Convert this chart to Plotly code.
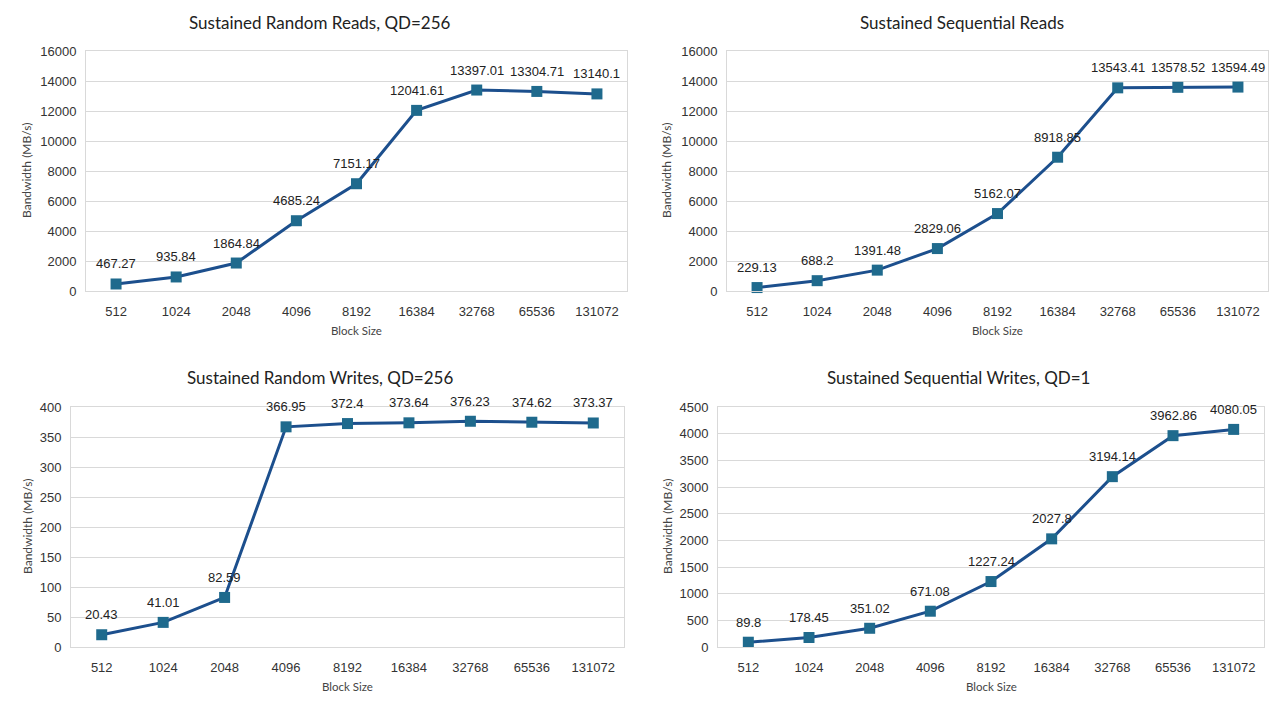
import plotly.graph_objects as go

block_sizes = ["512", "1024", "2048", "4096", "8192", "16384", "32768", "65536", "131072"]

rand_reads = [467.27, 935.84, 1864.84, 4685.24, 7151.17, 12041.61, 13397.01, 13304.71, 13140.1]
seq_reads = [229.13, 688.2, 1391.48, 2829.06, 5162.07, 8918.85, 13543.41, 13578.52, 13594.49]
rand_writes = [20.43, 41.01, 82.59, 366.95, 372.4, 373.64, 376.23, 374.62, 373.37]
seq_writes = [89.8, 178.45, 351.02, 671.08, 1227.24, 2027.8, 3194.14, 3962.86, 4080.05]

titles = ["Sustained Random Reads, QD=256", "Sustained Sequential Reads",
          "Sustained Random Writes, QD=256", "Sustained Sequential Writes, QD=1"]
y_ranges = [(0, 16000, 2000), (0, 16000, 2000), (0, 400, 50), (0, 4500, 500)]
series = [rand_reads, seq_reads, rand_writes, seq_writes]

W, H = 1280, 711
# pixel boxes: left, right, top, bottom
boxes = [(86, 627, 51, 291), (727, 1268, 51, 291), (71, 624, 407, 647), (718, 1264, 407, 647)]
title_x = [320, 962, 320, 958]
title_y = [22, 22, 378, 378]
ytitle_x = [27, 667, 27, 667]

LINE = "#1c4f8d"
MARK = "#1f6a8d"
GRID = "#d9d9d9"
TICKFONT = dict(family="Liberation Sans, Arial", size=13, color="#333333")
LABELFONT = dict(family="Liberation Sans, Arial", size=13, color="#222222")

idx = list(range(len(block_sizes)))

fig = go.Figure()
annotations = []
layout = {}
for i in range(4):
    l, r, t, b = boxes[i]
    sx = "" if i == 0 else str(i + 1)
    xa, ya = "x" + sx, "y" + sx
    fig.add_trace(go.Scatter(
        x=idx, y=series[i], mode="lines+markers",
        line=dict(color=LINE, width=3),
        marker=dict(symbol="square", size=11, color=MARK),
        xaxis=xa, yaxis=ya, showlegend=False, cliponaxis=False,
        customdata=block_sizes, hovertemplate="%{customdata}: %{y}<extra></extra>"))
    for xv, yv in zip(idx, series[i]):
        annotations.append(dict(
            x=xv, y=yv, xref=xa, yref=ya, text=str(yv), showarrow=False,
            xanchor="center", yanchor="middle", yshift=20, font=LABELFONT))
    lo, hi, dt = y_ranges[i]
    layout["xaxis" + sx] = dict(
        domain=[l / W, r / W], anchor=ya, range=[-0.5, len(block_sizes) - 0.5],
        tickvals=idx, ticktext=block_sizes, automargin=False,
        showgrid=False, zeroline=False, showline=True, linecolor=GRID, linewidth=1, mirror=True,
        ticks="", tickfont=TICKFONT, ticklabelstandoff=8, fixedrange=True)
    layout["yaxis" + sx] = dict(
        domain=[1 - b / H, 1 - t / H], anchor=xa, range=[lo, hi], dtick=dt,
        tickformat="d", automargin=False,
        showgrid=True, gridcolor=GRID, gridwidth=1, zeroline=False,
        showline=True, linecolor=GRID, linewidth=1, mirror=True,
        ticks="", tickfont=TICKFONT, ticklabelstandoff=6, fixedrange=True)
    annotations.append(dict(
        x=title_x[i] / W, y=1 - title_y[i] / H, xref="paper", yref="paper",
        text=titles[i], showarrow=False, xanchor="center", yanchor="middle",
        font=dict(family="Lato, Open Sans", size=17, color="#222222")))
    annotations.append(dict(
        x=(l + r) / 2 / W, y=1 - (b + 39) / H, xref="paper", yref="paper",
        text="Block Size", showarrow=False, xanchor="center", yanchor="middle",
        font=dict(family="Lato, Open Sans", size=11.5, color="#444444")))
    annotations.append(dict(
        x=ytitle_x[i] / W, y=1 - (t + b) / 2 / H, xref="paper", yref="paper",
        text="Bandwidth (MB/s)", showarrow=False, textangle=-90,
        xanchor="center", yanchor="middle",
        font=dict(family="Lato, Open Sans", size=12, color="#444444")))

fig.update_layout(
    width=W, height=H, margin=dict(l=0, r=0, t=0, b=0, pad=0, autoexpand=False),
    paper_bgcolor="white", plot_bgcolor="white",
    annotations=annotations, **layout)

fig.write_html("out.html", config={"displayModeBar": False},
               post_script="document.body.style.margin='0';document.body.style.overflow='hidden';")
